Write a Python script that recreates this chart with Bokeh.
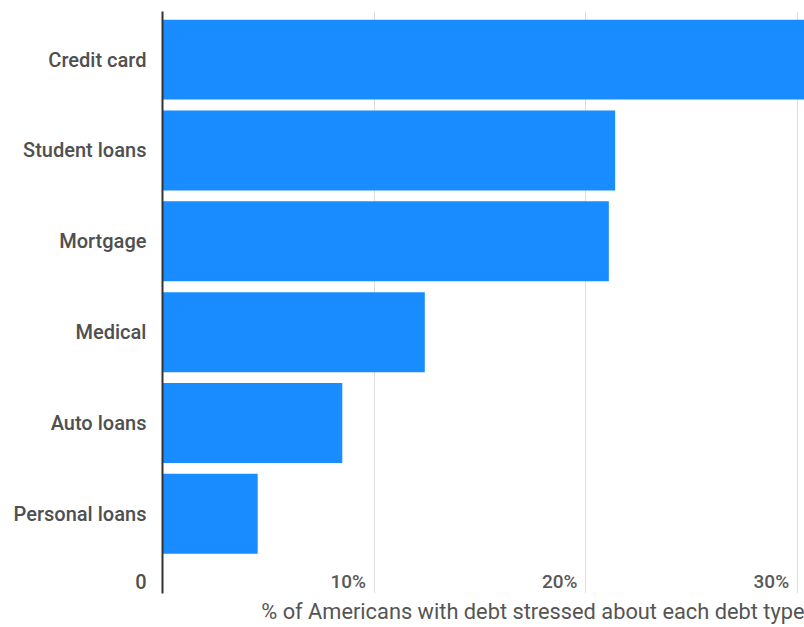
from bokeh.plotting import figure
from bokeh.models import Range1d, FixedTicker, ColumnDataSource, Title, LabelSet
from bokeh.core.properties import value
from bokeh.embed import file_html
from bokeh.resources import INLINE

categories = ["Credit card", "Student loans", "Mortgage", "Medical", "Auto loans", "Personal loans"]
values = [31.0, 21.4, 21.1, 12.4, 8.5, 4.5]
xtick_values = [0, 10, 20, 30]
xtick_labels = ["0", "10%", "20%", "30%"]
x_title = "% of Americans with debt stressed about each debt type"

MED = "'Roboto Medium', Roboto"
TICK_ROW = -0.745  # vertical position (data units) of the x tick-label row inside the plot

n = len(categories)
ypos = [n - 1 - i for i in range(n)]
src = ColumnDataSource(dict(cat=categories, val=values, y=ypos))
tick_src = ColumnDataSource(dict(x=xtick_values[1:], y=[TICK_ROW] * (len(xtick_values) - 1),
                                 t=xtick_labels[1:]))

p = figure(width=804, height=627, output_backend="svg", toolbar_location=None,
           x_range=Range1d(0, 30.35), y_range=Range1d(-0.877, 5.53))
p.min_border_left = 162
p.min_border_right = 0
p.min_border_top = 11
p.min_border_bottom = 0
p.outline_line_color = None
p.background_fill_color = "white"

p.hbar(y="y", right="val", left=0, height=0.88, source=src,
       fill_color="#198cff", line_color=None)

# x tick labels drawn inside the plot area, right-aligned to their gridlines
p.add_layout(LabelSet(x="x", y="y", text="t", source=tick_src, text_align="right",
                      text_baseline="middle", x_offset=-8, text_font=value(MED),
                      text_font_size="19px", text_color="#595959"))

p.xaxis.visible = False
p.add_layout(Title(text=x_title, align="right", text_font="Roboto", text_font_size="21.8px",
                   text_font_style="normal", text_color="#555555", standoff=7), "below")

ya = p.yaxis[0]
ya.ticker = FixedTicker(ticks=ypos + [TICK_ROW])
overrides = {y: c for y, c in zip(ypos, categories)}
overrides[TICK_ROW] = xtick_labels[0]
ya.major_label_overrides = overrides
ya.axis_line_color = "#333333"
ya.axis_line_width = 2
ya.major_tick_line_color = None
ya.minor_tick_line_color = None
ya.major_label_standoff = 10
ya.major_label_text_font = MED
ya.major_label_text_font_size = "20px"
ya.major_label_text_color = "#505050"

p.xgrid.ticker = FixedTicker(ticks=xtick_values[1:])
p.xgrid.grid_line_color = "#dddddd"
p.ygrid.grid_line_color = None

open("out.html", "w").write(file_html(p, INLINE))
